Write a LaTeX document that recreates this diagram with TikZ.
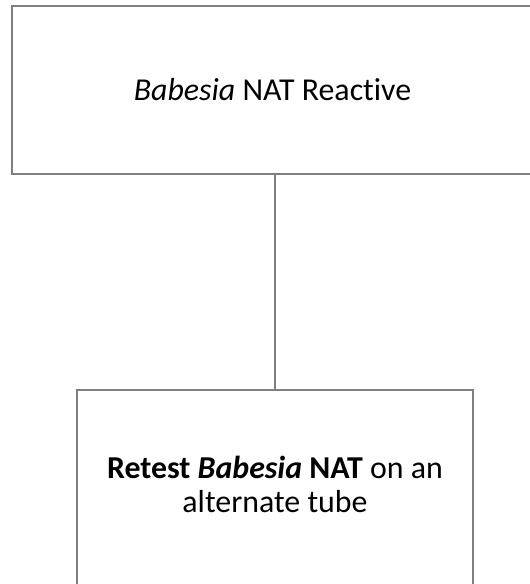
\documentclass[tikz,border=0pt]{standalone}
\usepackage{fontspec}
\setmainfont[Ligatures=CommonOff]{Carlito}
\usepackage{xcolor}
\usepackage{tikz}
\usetikzlibrary{positioning,calc}
\definecolor{bline}{HTML}{7F7F7F}
\tikzset{
  bbox/.style={draw=bline, line width=2bp, inner sep=0pt},
  btext/.style={font=\fontsize{32}{34}\selectfont, align=center, inner sep=0pt},
  blink/.style={draw=bline, line width=2bp},
}

\begin{document}
\begin{tikzpicture}[x=1bp,y=-1bp]
  \useasboundingbox (0,0) rectangle (530,584);

  % caixas
  \node[bbox, minimum width=521bp, minimum height=168bp, anchor=north west]
    (reactive) at (11,5) {};
  \node[btext] (reactivetxt) at (reactive.center) {\textit{Babesia} NAT Reactive};

  \node[bbox, minimum width=396bp, minimum height=220bp, anchor=north]
    (retestbox) at (275,389) {};
  \node[btext] (retest) at (275,484)
    {\textbf{Retest \textit{Babesia} NAT} on an\\alternate tube};

  % ligação
  \draw[blink] (retestbox.north |- reactive.south) -- (retestbox.north);

\end{tikzpicture}
\end{document}
